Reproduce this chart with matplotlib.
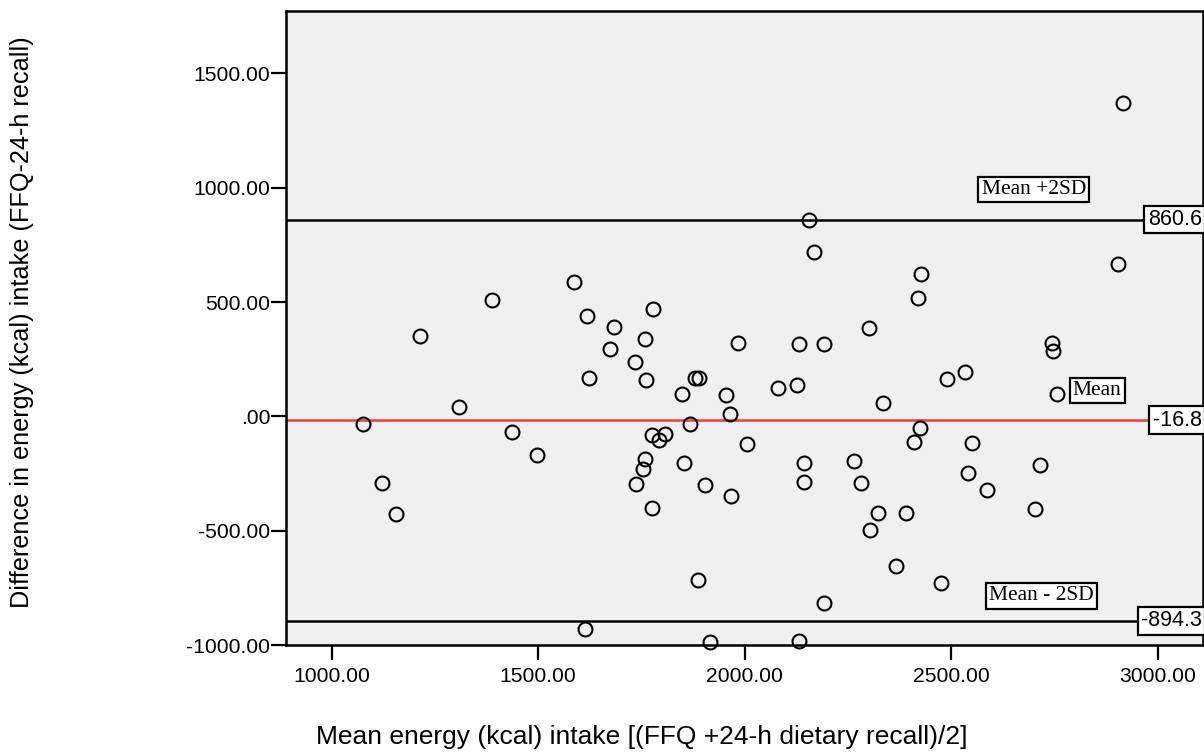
import numpy as np
import matplotlib.pyplot as plt

plt.rcParams['font.family'] = ['Liberation Sans', 'DejaVu Sans']

# Средняя энергия (ось X) и разница FFQ - 24-h recall (ось Y)
mean_energy = [1587, 1389, 1618, 1683, 1778, 1214, 1759, 1985, 2916, 2156,
               2169, 2426, 2419, 2905, 2302, 2131, 2192, 2744, 2747, 1675,
               1735, 1624, 1762, 1880, 1890, 1848, 1956, 1964, 1077, 1309,
               1436, 1498, 1869, 1777, 1807, 1793, 1760, 1755, 1737, 1854,
               1905, 1968, 1776, 1123, 1155, 1887, 1613, 1917, 2081, 2126,
               2336, 2490, 2534, 2756, 2425, 2409, 2006, 2144, 2145, 2264,
               2281, 2551, 2541, 2586, 2716, 2704, 2323, 2390, 2303, 2366,
               2475, 2192, 2131]
diff_energy = [586, 507, 440, 389, 468, 350, 338, 320, 1372, 858,
               718, 624, 516, 668, 385, 315, 318, 321, 287, 296,
               240, 168, 160, 168, 168, 99, 93, 11, -34, 42,
               -67, -168, -34, -82, -78, -105, -186, -231, -297, -206,
               -301, -348, -402, -292, -425, -714, -929, -986, 124, 137,
               60, 163, 192, 98, -53, -110, -121, -202, -285, -197,
               -291, -117, -248, -321, -211, -406, -423, -421, -499, -653,
               -730, -816, -982]

mean_diff = -16.8
upper_loa = 860.6
lower_loa = -894.3

x_ticks = [1000, 1500, 2000, 2500, 3000]
x_tick_labels = ['1000.00', '1500.00', '2000.00', '2500.00', '3000.00']
y_ticks = [-1000, -500, 0, 500, 1000, 1500]
y_tick_labels = ['-1000.00', '-500.00', '.00', '500.00', '1000.00', '1500.00']

fig = plt.figure(figsize=(12.04, 7.53), dpi=100)
ax = fig.add_axes([0.2373, 0.1434, 0.7619, 0.8420])
ax.set_facecolor('#f0f0f0')

# Линии среднего и границ согласия
ax.axhline(upper_loa, color='black', linewidth=1.8, zorder=2)
ax.axhline(lower_loa, color='black', linewidth=1.8, zorder=2)
ax.axhline(mean_diff, color='#ee3a40', linewidth=1.8, zorder=2)

ax.plot(mean_energy, diff_energy, linestyle='none', marker='o', markersize=10,
        markerfacecolor='none', markeredgecolor='black', markeredgewidth=1.5,
        clip_on=False, zorder=3)

ax.set_xlim(889, 3110)
ax.set_ylim(-1000, 1773)
ax.set_xticks(x_ticks)
ax.set_xticklabels(x_tick_labels)
ax.set_yticks(y_ticks)
ax.set_yticklabels(y_tick_labels)
ax.tick_params(axis='both', direction='out', length=10.5, width=1.6,
               labelsize=15.2, colors='black')
ax.tick_params(axis='y', pad=0.5)
ax.tick_params(axis='x', pad=5)
for sp in ax.spines.values():
    sp.set_linewidth(1.8)
    sp.set_color('black')

# Подписи значений справа
for val in [upper_loa, mean_diff, lower_loa]:
    ax.text(0.9985, val, f'{val:.1f}', transform=ax.get_yaxis_transform(),
            ha='right', va='center', fontsize=15.5, zorder=5,
            bbox=dict(boxstyle='square,pad=0.15', facecolor='white',
                      edgecolor='black', linewidth=1.6))

# Текстовые метки линий
serif = ['Liberation Serif', 'DejaVu Serif']
box = dict(boxstyle='square,pad=0.15', facecolor='white', edgecolor='black', linewidth=1.6)
ax.text(2700, upper_loa + 131, 'Mean +2SD', family=serif, fontsize=15.5,
        ha='center', va='center', bbox=box, zorder=5)
ax.text(2854, mean_diff + 130, 'Mean', family=serif, fontsize=15.5,
        ha='center', va='center', bbox=box, zorder=5)
ax.text(2719, lower_loa + 109, 'Mean - 2SD', family=serif, fontsize=15.5,
        ha='center', va='center', bbox=box, zorder=5)

fig.text(22 / 1204, 1 - 322 / 753, 'Difference in energy (kcal) intake (FFQ-24-h recall)',
         rotation=90, ha='center', va='center', fontsize=18.2)
fig.text(642 / 1204, 1 - 737 / 753, 'Mean energy (kcal) intake [(FFQ +24-h dietary recall)/2]',
         ha='center', va='center', fontsize=19)

fig.savefig('out.png', dpi=100)
